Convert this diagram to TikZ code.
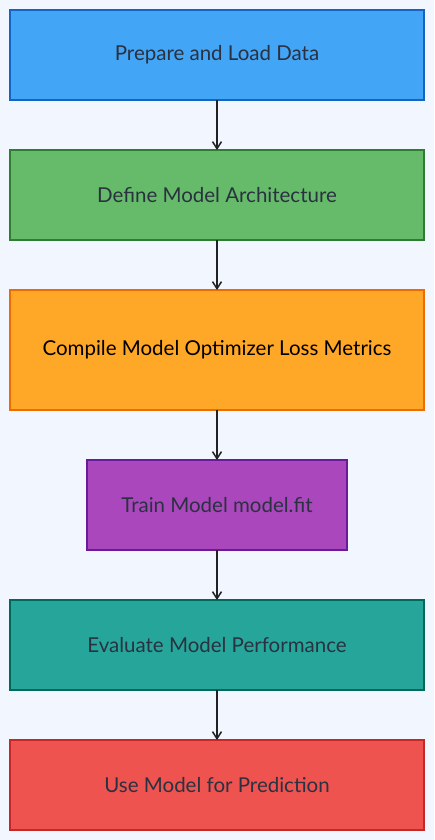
\documentclass[tikz,border=0pt]{standalone}
\usepackage{fontspec}
\setmainfont{Lato}
\usetikzlibrary{positioning,arrows.meta}
\definecolor{bgc}{HTML}{F2F7FF}
\definecolor{txt}{HTML}{2A3140}
\definecolor{arr}{HTML}{222222}
\definecolor{bluefill}{HTML}{42A5F5}
\definecolor{blueline}{HTML}{1565C0}
\definecolor{greenfill}{HTML}{66BB6A}
\definecolor{greenline}{HTML}{2E7D32}
\definecolor{orangefill}{HTML}{FFA726}
\definecolor{orangeline}{HTML}{EF6C00}
\definecolor{purplefill}{HTML}{AB47BC}
\definecolor{purpleline}{HTML}{6A1B9A}
\definecolor{tealfill}{HTML}{26A69A}
\definecolor{tealline}{HTML}{00695C}
\definecolor{redfill}{HTML}{EF5350}
\definecolor{redline}{HTML}{C62828}
\begin{document}
\begin{tikzpicture}[
  node distance=50pt,
  stepbox/.style={draw, line width=1.3pt, minimum width=414pt, minimum height=90pt,
    inner sep=0pt, outer sep=0pt, font=\fontsize{20.5}{24}\selectfont, text=txt},
  flow/.style={-{Straight Barb[length=7pt,width=9pt]}, line width=1.5pt, draw=arr}
]
  %background
  \fill[bgc] (0,0) rectangle (434pt,-840pt);
  \useasboundingbox (0,0) rectangle (434pt,-840pt);
  %steps
  \node[stepbox, fill=bluefill, draw=blueline, anchor=north] (prep) at (217pt,-10pt) {Prepare and Load Data};
  \node[stepbox, fill=greenfill, draw=greenline, below=of prep] (define) {Define Model Architecture};
  \node[stepbox, fill=orangefill, draw=orangeline, minimum height=120pt, text=black, below=of define] (compile) {Compile Model Optimizer Loss Metrics};
  \node[stepbox, fill=purplefill, draw=purpleline, minimum width=260pt, below=of compile] (train) {Train Model model.fit};
  \node[stepbox, fill=tealfill, draw=tealline, below=of train] (eval) {Evaluate Model Performance};
  \node[stepbox, fill=redfill, draw=redline, below=of eval] (use) {Use Model for Prediction};
  %arrows
  \draw[flow] (prep) -- (define);
  \draw[flow] (define) -- (compile);
  \draw[flow] (compile) -- (train);
  \draw[flow] (train) -- (eval);
  \draw[flow] (eval) -- (use);
\end{tikzpicture}
\end{document}
